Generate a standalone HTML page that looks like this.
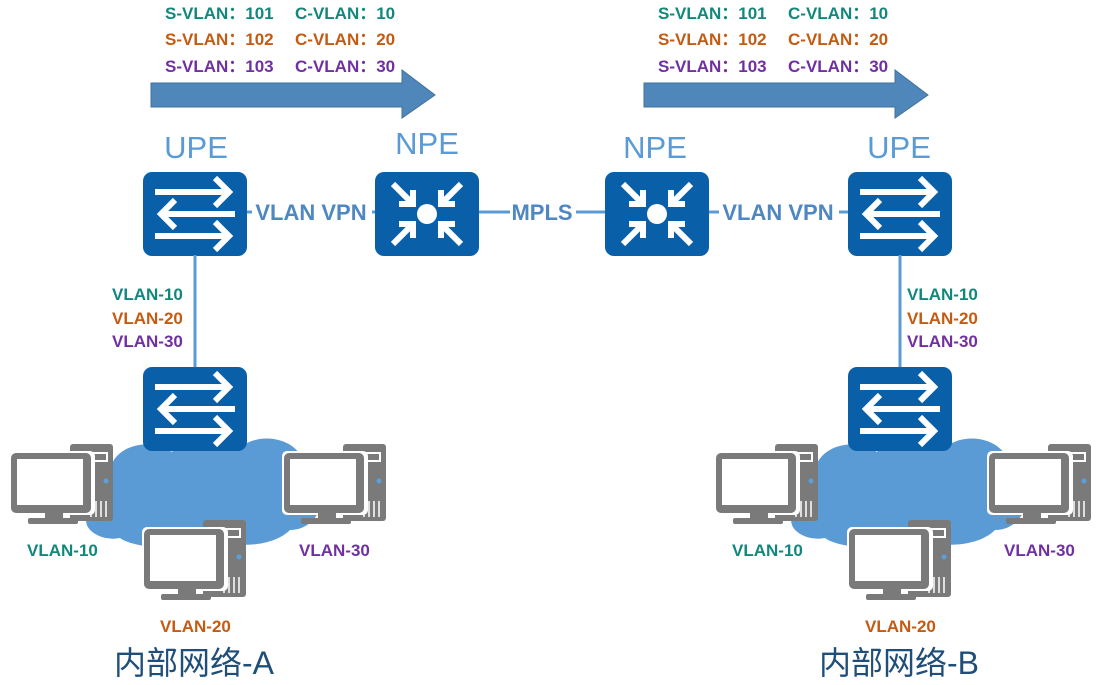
<!DOCTYPE html>
<html><head><meta charset="utf-8"><style>
html,body{margin:0;padding:0;background:#fff;}
svg{display:block;}
text{font-family:"Liberation Sans","Noto Sans CJK SC",sans-serif;}
.b{font-weight:bold;font-size:17px;}
.t{fill:#12887c}.o{fill:#c55a11}.p{fill:#7030a0}
</style></head><body>
<svg width="1107" height="685" viewBox="0 0 1107 685" xmlns="http://www.w3.org/2000/svg">
<defs>
<g id="sw">
 <rect x="0" y="0" width="104" height="84" rx="9" fill="#0a60a8"/>
 <g stroke="#fff" stroke-width="6" fill="none">
  <line x1="12" y1="20" x2="86" y2="20"/><polyline points="72,6 86,20 72,34"/>
  <line x1="18" y1="42" x2="92" y2="42"/><polyline points="32,28 18,42 32,56"/>
  <line x1="12" y1="64" x2="86" y2="64"/><polyline points="72,50 86,64 72,78"/>
 </g>
</g>
<g id="rt">
 <rect x="0" y="0" width="104" height="84" rx="9" fill="#0a60a8"/>
 <circle cx="52" cy="42" r="10" fill="#fff"/>
 <g stroke="#fff" stroke-width="6" fill="none">
  <line x1="18" y1="12" x2="36" y2="30"/><polyline points="38,18 38,32 24,32"/>
  <line x1="86" y1="12" x2="68" y2="30"/><polyline points="66,18 66,32 80,32"/>
  <line x1="18" y1="72" x2="36" y2="54"/><polyline points="38,66 38,52 24,52"/>
  <line x1="86" y1="72" x2="68" y2="54"/><polyline points="66,66 66,52 80,52"/>
 </g>
</g>
<g id="pc">
 <rect x="60" y="1" width="43" height="77" rx="3" fill="#7a7a7a"/>
 <rect x="67" y="10" width="30" height="8" fill="none" stroke="#fff" stroke-width="2"/>
 <circle cx="96" cy="38" r="2.5" fill="#5aa0dc"/>
 <g stroke="#fff" stroke-width="1.5"><line x1="81" y1="58" x2="81" y2="74"/><line x1="86" y1="58" x2="86" y2="74"/><line x1="91" y1="58" x2="91" y2="74"/><line x1="96" y1="58" x2="96" y2="74"/></g>
 <rect x="-1" y="8" width="86" height="64" rx="5" fill="#fff"/>
 <rect x="1" y="10" width="80" height="60" rx="5" fill="#7a7a7a"/>
 <rect x="7" y="16" width="66" height="46" fill="#fff"/>
 <rect x="35" y="70" width="18" height="6" fill="#7a7a7a"/>
 <rect x="18" y="75" width="50" height="6" rx="2" fill="#7a7a7a"/>
</g>
<g id="bottom">
 <path d="M88,515 C60,505 72,470 110,474 C110,446 150,436 172,452 C188,428 228,430 242,446 C268,428 310,445 302,472 C335,478 325,530 290,530 C272,548 232,548 216,538 C196,552 136,550 120,538 C100,542 80,528 88,515Z" fill="#5b9bd5"/>
 <line x1="195" y1="255" x2="195" y2="368" stroke="#5b9bd5" stroke-width="3"/>
 <use href="#sw" x="143" y="367"/>
 <use href="#pc" x="10" y="443"/>
 <use href="#pc" x="283" y="443"/>
 <use href="#pc" x="143" y="519"/>
 <text x="27" y="556" class="b t">VLAN-10</text>
 <text x="299" y="556" class="b p">VLAN-30</text>
 <text x="160" y="632" class="b o">VLAN-20</text>
</g>
<g id="top">
 <text x="165" y="19" class="b t">S-VLAN：101</text><text x="295" y="19" class="b t">C-VLAN：10</text>
 <text x="165" y="45" class="b o">S-VLAN：102</text><text x="295" y="45" class="b o">C-VLAN：20</text>
 <text x="165" y="72" class="b p">S-VLAN：103</text><text x="295" y="72" class="b p">C-VLAN：30</text>
 <polygon points="151,83 402,83 402,70 435,95 402,118 402,107 151,107" fill="#4f87ba" stroke="#41719c" stroke-width="1"/>
</g>
</defs>

<use href="#top"/>
<use href="#top" x="493"/>

<line x1="247" y1="212" x2="848" y2="212" stroke="#5b9bd5" stroke-width="3"/>
<rect x="252" y="198" width="120" height="28" fill="#fff"/>
<rect x="510" y="198" width="66" height="28" fill="#fff"/>
<rect x="719" y="198" width="120" height="28" fill="#fff"/>
<g font-weight="bold" font-size="22" fill="#4f87c0">
<text x="311" y="220" text-anchor="middle">VLAN VPN</text>
<text x="542" y="220" text-anchor="middle">MPLS</text>
<text x="778" y="220" text-anchor="middle">VLAN VPN</text>
</g>
<g font-size="31" fill="#5b9bd5" text-anchor="middle">
<text x="196" y="158">UPE</text>
<text x="427" y="154">NPE</text>
<text x="655" y="158">NPE</text>
<text x="899" y="158">UPE</text>
</g>
<use href="#sw" x="143" y="172"/>
<use href="#rt" x="375" y="172"/>
<use href="#rt" x="605" y="172"/>
<use href="#sw" x="848" y="172"/>

<use href="#bottom"/>
<use href="#bottom" x="705"/>

<text x="112" y="300" class="b t">VLAN-10</text>
<text x="112" y="324" class="b o">VLAN-20</text>
<text x="112" y="347" class="b p">VLAN-30</text>
<text x="907" y="300" class="b t">VLAN-10</text>
<text x="907" y="324" class="b o">VLAN-20</text>
<text x="907" y="347" class="b p">VLAN-30</text>

<text x="114" y="674" font-size="32" fill="#1f4e79">内部网络-A</text>
<text x="819" y="674" font-size="32" fill="#1f4e79">内部网络-B</text>
</svg>
</body></html>
